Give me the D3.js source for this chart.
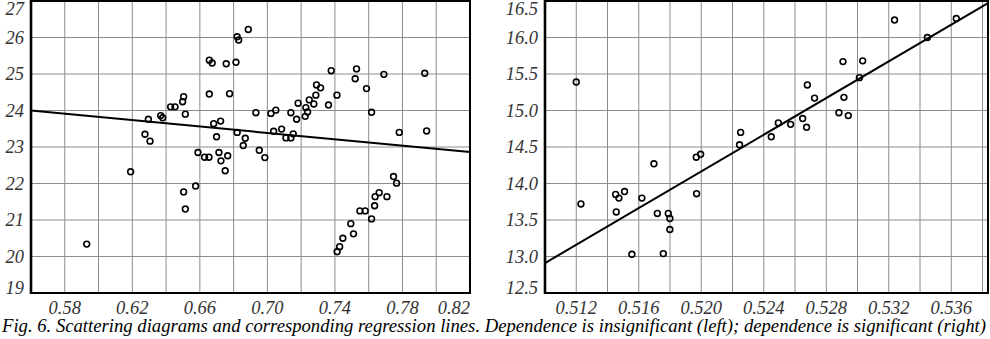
<!DOCTYPE html>
<html>
<head>
<meta charset="utf-8">
<script src="https://cdnjs.cloudflare.com/ajax/libs/d3/7.8.5/d3.min.js"></script>
<style>
  body { margin: 0; background: #fff; }
  svg { display: block; }
</style>
</head>
<body>
<svg id="chart" width="990" height="339"></svg>
<script>
// left panel: insignificant dependence
var leftX = [0.593,0.619,0.6275,0.6305,0.6295,0.6368,0.638,0.6427,0.6453,0.6504,0.6498,0.6514,0.6504,0.6514,0.6575,
  0.6589,0.6628,0.6654,0.6713,0.6725,0.6765,0.675,0.6656,0.6673,0.6656,0.6756,0.6776,0.6814,0.6821,0.683,0.6887,
  0.6682,0.6723,0.6699,0.6821,0.6869,0.6857,0.6952,0.6985,0.6932,0.7021,0.705,0.7037,0.7084,0.711,0.7139,0.7153,
  0.7139,0.7173,0.7182,0.7224,0.7238,0.7228,0.7248,0.7275,0.7287,0.7291,0.7315,0.7362,0.7378,0.7412,0.752,0.7528,
  0.7587,0.7617,0.769,0.7781,0.7932,0.7943,0.7747,0.7765,0.7662,0.7638,0.7708,0.7635,0.7548,0.7579,0.7617,0.7494,
  0.751,0.7447,0.7428,0.7413]
var leftY = [20.34,22.32,23.35,23.16,23.76,23.86,23.80,24.10,24.10,24.38,24.24,23.90,21.77,21.30,21.93,
  22.85,22.72,22.72,22.85,22.62,22.76,22.35,25.38,25.30,24.45,25.28,24.46,25.32,26.02,25.93,26.22,
  23.64,23.71,23.28,23.40,23.24,23.04,22.91,22.71,23.94,23.92,24.01,23.43,23.49,23.25,23.25,23.36,
  23.94,23.76,24.20,23.84,23.96,24.08,24.29,24.18,24.42,24.70,24.62,24.15,25.09,24.42,24.87,25.14,
  24.60,23.95,24.99,23.40,25.02,23.44,22.19,22.01,21.75,21.64,21.64,21.39,21.25,21.25,21.03,20.90,
  20.62,20.50,20.27,20.13]
var leftLine = [[0.56, 24.0], [0.82, 22.86]]
var leftXDomain = [0.56, 0.82]
var leftYDomain = [19, 27]
var leftXGrid = [0.58,0.60,0.62,0.64,0.66,0.68,0.70,0.72,0.74,0.76,0.78,0.80]
var leftXLabels = [0.58,0.62,0.66,0.70,0.74,0.78,0.82]
var leftYTicks = [19,20,21,22,23,24,25,26,27]

// right panel: significant dependence
var rightX = [0.512,0.5123,0.51452,0.51473,0.51509,0.51456,0.5162,0.51556,0.51697,0.51719,0.51757,0.51789,
  0.51799,0.51799,0.51968,0.51996,0.5197,0.52245,0.52252,0.52448,0.52493,0.52572,0.52649,0.52674,0.52679,
  0.52725,0.52881,0.52913,0.52907,0.52941,0.53012,0.53033,0.53237,0.53447,0.53632]
var rightY = [15.39,13.72,13.85,13.80,13.89,13.61,13.80,13.03,14.27,13.59,13.04,13.59,
  13.52,13.37,14.36,14.40,13.86,14.53,14.70,14.64,14.83,14.81,14.89,14.77,15.35,
  15.17,14.97,15.18,15.67,14.93,15.45,15.68,16.24,16.00,16.26]
var rightLine = [[0.510, 12.91], [0.53835, 16.47]]
var rightXDomain = [0.510, 0.53835]
var rightYDomain = [12.5, 16.5]
var rightXGrid = [0.512,0.514,0.516,0.518,0.520,0.522,0.524,0.526,0.528,0.530,0.532,0.534,0.536,0.538]
var rightXLabels = [0.512,0.516,0.520,0.524,0.528,0.532,0.536]
var rightYTicks = [12.5,13.0,13.5,14.0,14.5,15.0,15.5,16.0,16.5]

var caption = "Fig. 6. Scattering diagrams and corresponding regression lines. Dependence is insignificant (left); dependence is significant (right)"

var svg = d3.select("#chart")
var top0 = 1, bottom0 = 293

function panel(opt) {
  var x = d3.scaleLinear().domain(opt.xDomain).range([opt.left, opt.right])
  var y = d3.scaleLinear().domain(opt.yDomain).range([bottom0, top0])
  var g = svg.append("g")

  // grid
  g.selectAll("line.vg").data(opt.xGrid).enter().append("line")
    .attr("x1", function(d) { return x(d) }).attr("x2", function(d) { return x(d) })
    .attr("y1", top0).attr("y2", bottom0)
    .attr("stroke", "#8c8c8c").attr("stroke-width", 1)
  g.selectAll("line.hg").data(opt.yTicks.slice(1, -1)).enter().append("line")
    .attr("y1", function(d) { return y(d) }).attr("y2", function(d) { return y(d) })
    .attr("x1", opt.left).attr("x2", opt.right)
    .attr("stroke", "#8c8c8c").attr("stroke-width", 1)

  // regression line
  g.append("line")
    .attr("x1", x(opt.line[0][0])).attr("y1", y(opt.line[0][1]))
    .attr("x2", x(opt.line[1][0])).attr("y2", y(opt.line[1][1]))
    .attr("stroke", "#000").attr("stroke-width", 2)

  // points
  g.selectAll("circle").data(d3.range(opt.xs.length)).enter().append("circle")
    .attr("cx", function(i) { return x(opt.xs[i]) })
    .attr("cy", function(i) { return y(opt.ys[i]) })
    .attr("r", 2.9)
    .attr("fill", "none").attr("stroke", "#000").attr("stroke-width", 1.6)

  // frame
  g.append("rect")
    .attr("x", opt.left).attr("y", top0)
    .attr("width", opt.right - opt.left).attr("height", bottom0 - top0)
    .attr("fill", "none").attr("stroke", "#000").attr("stroke-width", 2)
  g.append("line")
    .attr("x1", opt.left).attr("x2", opt.left).attr("y1", 0).attr("y2", bottom0 + 1)
    .attr("stroke", "#000").attr("stroke-width", 2.6)

  // y labels
  g.selectAll("text.yl").data(opt.yTicks).enter().append("text")
    .attr("x", opt.left - 7)
    .attr("y", function(d) { return Math.min(Math.max(y(d), 8.5), 288) })
    .attr("dy", "0.34em")
    .attr("text-anchor", "end")
    .style("font-family", "Liberation Serif").style("font-style", "italic")
    .style("font-size", "18.5px")
    .attr("fill", "#333")
    .text(opt.yFmt)

  // x labels
  g.selectAll("text.xl").data(opt.xLabels).enter().append("text")
    .attr("x", function(d) { return x(d) > opt.right - 16 ? opt.right : x(d) })
    .attr("y", 314)
    .attr("text-anchor", function(d) { return x(d) > opt.right - 16 ? "end" : "middle" })
    .style("font-family", "Liberation Serif").style("font-style", "italic")
    .style("font-size", "18.5px")
    .attr("fill", "#333")
    .text(opt.xFmt)
}

panel({ left: 31, right: 470, xDomain: leftXDomain, yDomain: leftYDomain, xGrid: leftXGrid,
  xLabels: leftXLabels, yTicks: leftYTicks, xs: leftX, ys: leftY, line: leftLine,
  xFmt: d3.format(".2f"), yFmt: d3.format("d") })

panel({ left: 545, right: 988, xDomain: rightXDomain, yDomain: rightYDomain, xGrid: rightXGrid,
  xLabels: rightXLabels, yTicks: rightYTicks, xs: rightX, ys: rightY, line: rightLine,
  xFmt: d3.format(".3f"), yFmt: d3.format(".1f") })

// caption
svg.append("text")
  .attr("x", 2).attr("y", 331.5)
  .style("font-family", "Liberation Serif").style("font-style", "italic")
  .style("font-size", "19px")
  .attr("fill", "#000")
  .attr("textLength", 984)
  .attr("lengthAdjust", "spacingAndGlyphs")
  .text(caption)
</script>
</body>
</html>
